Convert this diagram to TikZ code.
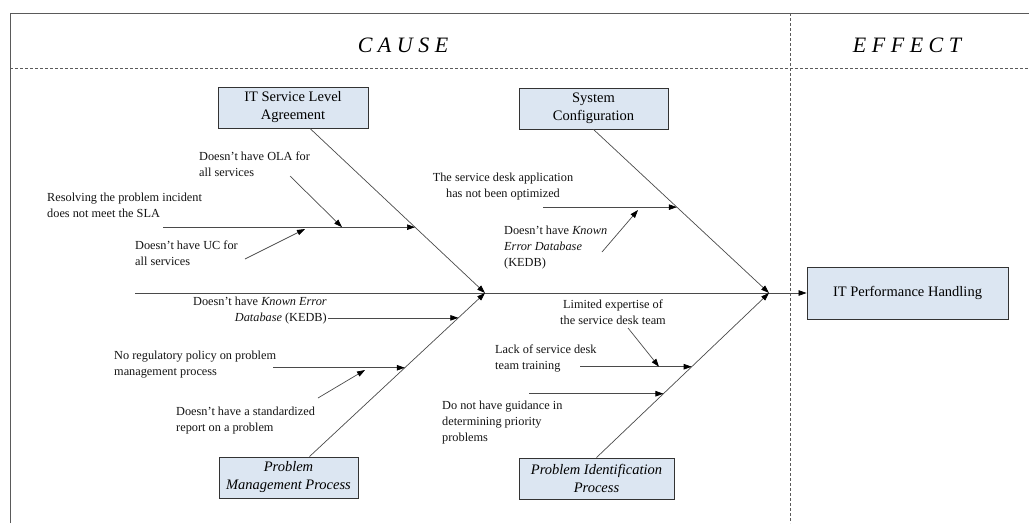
\documentclass[tikz,border=0pt]{standalone}
\usepackage{fontspec}
\setmainfont{Liberation Serif}
\usetikzlibrary{arrows.meta,calc}
\definecolor{boxfill}{HTML}{DCE6F2}
\definecolor{linecol}{HTML}{4A4A4A}
\definecolor{framecol}{HTML}{5A5A5A}
\begin{document}
\begin{tikzpicture}[x=1pt,y=-1pt,
  lbl/.style={font=\fontsize{12.3}{15.8}\selectfont, inner sep=0pt, align=left, text=black!92},
  catbox/.style={draw=black!80, fill=boxfill, line width=0.9pt, align=center,
    font=\fontsize{14.5}{18}\selectfont, inner sep=0pt, minimum height=41pt},
  arr/.style={draw=linecol, line width=0.7pt, -{Triangle[length=8pt,width=5.5pt,fill=black,color=black]}},
  ttl/.style={font=\fontsize{22}{26}\selectfont\itshape, inner sep=0pt},
  framedash/.style={draw=framecol, line width=0.9pt, dash pattern=on 3pt off 2pt}]
\useasboundingbox (0,0) rectangle (1029,523);
\fill[white] (0,0) rectangle (1029,523);
% frame
\draw[framecol, line width=1pt] (10,523) -- (10,13) -- (1029,13);
\draw[framedash] (10,68) -- (1029,68);
\draw[framedash] (790,13) -- (790,523);
% titles
\node[ttl] (cause) at (403,45) {C A U S E};
\node[ttl] (effect) at (907,45) {E F F E C T};
% category boxes
\node[catbox, minimum width=150pt] (sla) at (293,107.5) {IT Service Level\\Agreement};
\node[catbox, minimum width=149pt] (sc) at (593.5,108.5) {System\\Configuration};
\node[catbox, minimum width=139pt, font=\fontsize{14.5}{18}\selectfont\itshape] (pmp) at (288.5,477.5) {Problem\\Management Process};
\node[catbox, minimum width=155pt, font=\fontsize{14.5}{18}\selectfont\itshape] (pip) at (596.5,478.5) {Problem Identification\\Process};
\node[catbox, minimum width=201pt, minimum height=52pt] (eff) at (907.5,293) {IT Performance Handling};
% spine
\coordinate (tail) at (135,293);
\coordinate (J1) at (485,293);
\coordinate (J2) at (769,293);
\draw[arr] (tail) -- (eff.west);
% upper-left bone
\coordinate (A1) at ($(sla.south)+(17,0)$);
\draw[arr] (A1) -- (J1);
\path (A1) -- (J1) coordinate[pos=0.6] (b11);
\draw[arr] (163,0 |- b11) -- (b11);
\coordinate (ola0) at (290,176);
\draw[arr] (ola0) -- (342,0 |- b11);
\coordinate (uc0) at (245,259);
\coordinate (uc1) at (305,229);
\draw[arr] (uc0) -- (uc1);
% upper-right bone
\draw[arr] (sc.south) -- (J2);
\path (sc.south) -- (J2) coordinate[pos=0.475] (b21);
\draw[arr] (543,0 |- b21) -- (b21);
\coordinate (kb0) at (602,252);
\coordinate (kb1) at (638,210);
\draw[arr] (kb0) -- (kb1);
% lower-left bone
\coordinate (A3) at ($(pmp.north)+(21,0)$);
\draw[arr] (A3) -- (J1);
\path (A3) -- (J1) coordinate[pos=0.848] (b31) coordinate[pos=0.543] (b32);
\draw[arr] (328,0 |- b31) -- (b31);
\draw[arr] (273,0 |- b32) -- (b32);
\coordinate (st0) at (318,398);
\coordinate (st1) at (365,370);
\draw[arr] (st0) -- (st1);
% lower-right bone
\draw[arr] (pip.north) -- (J2);
\path (pip.north) -- (J2) coordinate[pos=0.552] (b41) coordinate[pos=0.388] (b42);
\draw[arr] (580,0 |- b41) -- (b41);
\draw[arr] (529,0 |- b42) -- (b42);
\coordinate (le0) at (628,328);
\draw[arr] (le0) -- (659,0 |- b41);
% labels
\node[lbl, anchor=north west] (tola) at (199,152) {Doesn't have OLA for\\all services};
\node[lbl, anchor=north west] (tres) at (47,193) {Resolving the problem incident\\does not meet the SLA};
\node[lbl, anchor=north west] (tuc) at (135,241) {Doesn't have UC for\\all services};
\node[lbl, anchor=north east, align=right] (tkedb1) at (327,297) {Doesn't have \textit{Known Error}\\\textit{Database} (KEDB)};
\node[lbl, anchor=north west] (treg) at (114,351) {No regulatory policy on problem\\management process};
\node[lbl, anchor=north west] (tstd) at (176,407) {Doesn't have a standardized\\report on a problem};
\node[lbl, anchor=north, align=center] (tapp) at (503,173) {The service desk application\\has not been optimized};
\node[lbl, anchor=north west] (tkedb2) at (504,226) {Doesn't have \textit{Known}\\\textit{Error Database}\\(KEDB)};
\node[lbl, anchor=north, align=center] (tlim) at (613,300) {Limited expertise of\\the service desk team};
\node[lbl, anchor=north west] (tlack) at (495,345) {Lack of service desk\\team training};
\node[lbl, anchor=north west] (tguid) at (442,401) {Do not have guidance in\\determining priority\\problems};
\end{tikzpicture}
\end{document}
